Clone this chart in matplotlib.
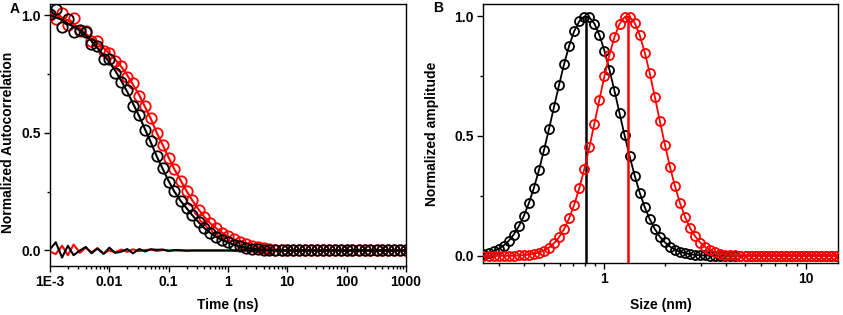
import numpy as np
import matplotlib
matplotlib.use("Agg")
import matplotlib.pyplot as plt
from matplotlib.ticker import LogLocator, NullFormatter, MultipleLocator

plt.rcParams['font.family'] = ['Liberation Sans', 'DejaVu Sans']
plt.rcParams['font.weight'] = 'bold'

# --- Panel A : autocorrelation vs time (ns) ---
time_ns = [0.001, 0.00125, 0.0016, 0.002, 0.0025, 0.0032, 0.004, 0.005, 0.0063, 0.008,
           0.01, 0.0125, 0.016, 0.02, 0.025, 0.032, 0.04, 0.05, 0.063, 0.08,
           0.1, 0.125, 0.16, 0.2, 0.25, 0.32, 0.4, 0.5, 0.63, 0.8,
           1.0, 1.25, 1.6, 2.0, 2.5, 3.2, 4.0, 5.0, 6.3, 8.0,
           10, 12.5, 16, 20, 25, 32, 40, 50, 63, 80,
           100, 125, 160, 200, 250, 320, 400, 500, 630, 800, 1000]

fit_black = [1.00, 0.99, 0.98, 0.965, 0.95, 0.935, 0.915, 0.89, 0.86, 0.83,
             0.80, 0.765, 0.72, 0.675, 0.625, 0.57, 0.515, 0.46, 0.40, 0.345,
             0.295, 0.25, 0.21, 0.18, 0.15, 0.12, 0.095, 0.075, 0.058, 0.044,
             0.034, 0.025, 0.017, 0.012, 0.008, 0.005, 0.003, 0.002, 0.001, 0.001,
             0, 0, 0, 0, 0, 0, 0, 0, 0, 0,
             0, 0, 0, 0, 0, 0, 0, 0, 0, 0, 0]

data_black = [1.005, 1.025, 0.95, 0.985, 0.93, 0.935, 0.93, 0.878, 0.868, 0.815,
              0.812, 0.755, 0.715, 0.681, 0.613, 0.576, 0.511, 0.465, 0.403, 0.349,
              0.293, 0.252, 0.211, 0.179, 0.15, 0.12, 0.095, 0.075, 0.058, 0.044,
              0.034, 0.025, 0.017, 0.012, 0.008, 0.005, 0.003, 0.002, 0.001, 0.001,
              0, 0, 0, 0, 0, 0, 0, 0, 0, 0,
              0, 0, 0, 0, 0, 0, 0, 0, 0, 0, 0]

res_black = [0.005, 0.035, -0.03, 0.02, -0.02, 0.0, 0.015, -0.012, 0.008, -0.015,
             0.012, -0.01, -0.005, 0.006, -0.012, 0.006, -0.004, 0.005, 0.003, 0.004,
             -0.002, 0.002, 0.001, -0.001, 0, 0, 0, 0, 0, 0,
             0, 0, 0, 0, 0, 0, 0, 0, 0, 0,
             0, 0, 0, 0, 0, 0, 0, 0, 0, 0,
             0, 0, 0, 0, 0, 0, 0, 0, 0, 0, 0]

fit_red = [1.005, 1.0, 0.99, 0.978, 0.962, 0.943, 0.922, 0.90, 0.882, 0.86,
           0.838, 0.812, 0.78, 0.745, 0.705, 0.66, 0.61, 0.56, 0.50, 0.447,
           0.395, 0.345, 0.297, 0.253, 0.213, 0.174, 0.142, 0.116, 0.095, 0.075,
           0.06, 0.048, 0.038, 0.028, 0.02, 0.014, 0.01, 0.007, 0.004, 0.002,
           0.001, 0, 0, 0, 0, 0, 0, 0, 0, 0,
           0, 0, 0, 0, 0, 0, 0, 0, 0, 0, 0]

data_red = [1.0, 0.985, 1.01, 0.958, 0.987, 0.933, 0.934, 0.892, 0.892, 0.848,
            0.838, 0.804, 0.784, 0.739, 0.71, 0.657, 0.612, 0.564, 0.498, 0.449,
            0.395, 0.345, 0.297, 0.253, 0.213, 0.174, 0.142, 0.116, 0.095, 0.075,
            0.06, 0.048, 0.038, 0.028, 0.02, 0.014, 0.01, 0.007, 0.004, 0.002,
            0.001, 0, 0, 0, 0, 0, 0, 0, 0, 0,
            0, 0, 0, 0, 0, 0, 0, 0, 0, 0, 0]

res_red = [-0.005, -0.015, 0.02, -0.02, 0.025, -0.01, 0.012, -0.008, 0.01, -0.012,
           0.0, -0.008, 0.004, -0.006, 0.005, -0.003, 0.002, 0.004, -0.002, 0.002,
           0, 0, 0, 0, 0, 0, 0, 0, 0, 0,
           0, 0, 0, 0, 0, 0, 0, 0, 0, 0,
           0, 0, 0, 0, 0, 0, 0, 0, 0, 0,
           0, 0, 0, 0, 0, 0, 0, 0, 0, 0, 0]

time_ticks = [0.001, 0.01, 0.1, 1, 10, 100, 1000]
time_labels = ['1E-3', '0.01', '0.1', '1', '10', '100', '1000']

# --- Panel B : size distribution (nm) ---
size_nm = [0.2512, 0.2661, 0.2818, 0.2985, 0.3162, 0.3350, 0.3548, 0.3758, 0.3981, 0.4217,
           0.4467, 0.4732, 0.5012, 0.5309, 0.5623, 0.5957, 0.6310, 0.6683, 0.7079, 0.7499,
           0.7943, 0.8414, 0.8913, 0.9441, 1.0, 1.0593, 1.1220, 1.1885, 1.2589, 1.3335,
           1.4125, 1.4962, 1.5849, 1.6788, 1.7783, 1.8836, 1.9953, 2.1135, 2.2387, 2.3714,
           2.5119, 2.6607, 2.8184, 2.9854, 3.1623, 3.3497, 3.5481, 3.7584, 3.9811, 4.2170,
           4.4668, 4.7315, 5.0119, 5.3088, 5.6234, 5.9566, 6.3096, 6.6834, 7.0795, 7.4989,
           7.9433, 8.4140, 8.9125, 9.4406, 10.0, 10.593, 11.220, 11.885, 12.589, 13.335,
           14.125, 14.962]

amp_black = [0.0076, 0.0122, 0.019, 0.0289, 0.0429, 0.0623, 0.0885, 0.1226, 0.1658, 0.219,
             0.283, 0.357, 0.44, 0.529, 0.621, 0.713, 0.80, 0.876, 0.937, 0.978,
             0.998, 0.995, 0.969, 0.921, 0.856, 0.776, 0.688, 0.595, 0.503, 0.416,
             0.335, 0.264, 0.203, 0.153, 0.112, 0.080, 0.056, 0.0385, 0.0257, 0.0168,
             0.0107, 0.0067, 0.0041, 0.0024, 0.0014, 0.0008, 0.0004] + [0.0] * 25

amp_red = [0.0] * 7 + [0.0016, 0.0028, 0.0049,
           0.0084, 0.0138, 0.0222, 0.0346, 0.0526, 0.0778, 0.1118, 0.1563, 0.2125, 0.281,
           0.361, 0.452, 0.55, 0.651, 0.749, 0.839, 0.913, 0.967, 0.996, 0.997,
           0.972, 0.921, 0.848, 0.761, 0.663, 0.562, 0.464, 0.372, 0.29, 0.22,
           0.162, 0.1166, 0.0813, 0.0552, 0.0365, 0.0234, 0.0146, 0.0089, 0.0053, 0.003,
           0.0017, 0.0009, 0.0005] + [0.0] * 19

peak_black = 0.81
peak_red = 1.305

fig = plt.figure(figsize=(8.43, 3.15), dpi=100)
axA = fig.add_axes([0.0593, 0.157, 0.4223, 0.830])
axB = fig.add_axes([0.573, 0.165, 0.421, 0.822])

mk = dict(marker='o', mfc='none', linestyle='none')

# Panel A: red under black
axA.plot(time_ns, res_red, color='red', lw=1.5, zorder=2)
axA.plot(time_ns, data_red, color='red', ms=7.5, mew=1.3, zorder=3, **mk)
axA.plot(time_ns, fit_red, color='red', lw=1.5, zorder=3)
axA.plot(time_ns, res_black, color='black', lw=1.5, zorder=4)
axA.plot(time_ns, data_black, color='black', ms=7.5, mew=1.3, zorder=5, **mk)
axA.plot(time_ns, fit_black, color='black', lw=1.5, zorder=5)

axA.set_xscale('log')
axA.set_xlim(0.001, 1000)
axA.set_ylim(-0.064, 1.047)
axA.set_xticks(time_ticks)
axA.set_xticklabels(time_labels)
axA.xaxis.set_minor_locator(LogLocator(base=10, subs=np.arange(2, 10), numticks=20))
axA.xaxis.set_minor_formatter(NullFormatter())
axA.set_xlabel('Time (ns)', fontsize=10, fontweight='bold')
axA.set_ylabel('Normalized Autocorrelation', fontsize=10, fontweight='bold')
axA.yaxis.set_label_coords(-0.098, 0.47)
axA.xaxis.set_label_coords(0.5, -0.123)

# Panel B: black under red
axB.plot(size_nm, amp_black, color='black', lw=1.3, marker='o', mfc='none', ms=6.5, mew=1.3, zorder=3)
axB.vlines(peak_black, -0.03, 1.0, color='black', lw=1.8, zorder=4)
axB.plot(size_nm, amp_red, color='red', lw=1.3, marker='o', mfc='none', ms=6.5, mew=1.3, zorder=5)
axB.vlines(peak_red, -0.03, 1.0, color='red', lw=1.8, zorder=6)

axB.set_xscale('log')
axB.set_xlim(0.25, 14.4)
axB.set_ylim(-0.03, 1.05)
axB.set_xticks([1, 10])
axB.set_xticklabels(['1', '10'])
axB.xaxis.set_minor_locator(LogLocator(base=10, subs=np.arange(2, 10), numticks=20))
axB.xaxis.set_minor_formatter(NullFormatter())
axB.set_xlabel('Size (nm)', fontsize=10, fontweight='bold')
axB.set_ylabel('Normalized amplitude', fontsize=10, fontweight='bold')
axB.yaxis.set_label_coords(-0.124, 0.5)
axB.xaxis.set_label_coords(0.5, -0.135)

for ax in (axA, axB):
    ax.set_yticks([0.0, 0.5, 1.0])
    ax.set_yticklabels(['0.0', '0.5', '1.0'])
    ax.yaxis.set_minor_locator(MultipleLocator(0.25))
    ax.tick_params(which='major', direction='out', length=4, width=1, labelsize=10, pad=2.5)
    ax.tick_params(which='minor', direction='out', length=2.5, width=1)
    for lbl in ax.get_xticklabels() + ax.get_yticklabels():
        lbl.set_fontweight('bold')
    for sp in ax.spines.values():
        sp.set_linewidth(1.0)

fig.text(0.012, 0.971, 'A', fontsize=10, fontweight='bold', va='center')
fig.text(0.514, 0.974, 'B', fontsize=10, fontweight='bold', va='center')

fig.savefig('out.png', dpi=100)
